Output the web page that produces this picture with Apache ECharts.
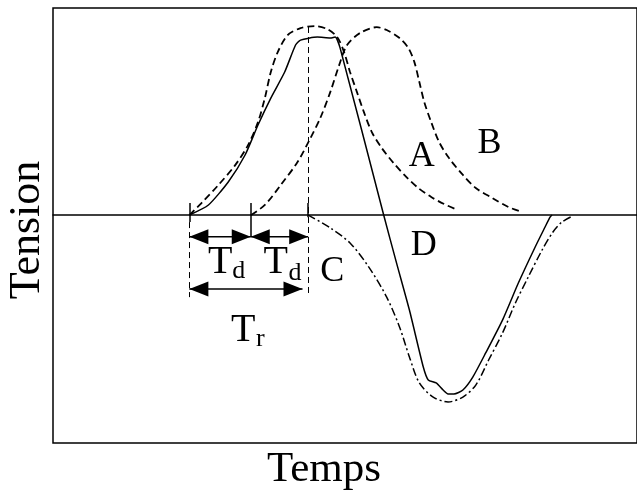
<!DOCTYPE html>
<html><head><meta charset="utf-8">
<script src="https://cdn.jsdelivr.net/npm/echarts@6/dist/echarts.min.js"></script>
<style>html,body{margin:0;padding:0;background:#fff}#c{width:637px;height:492px}</style>
</head><body><div id="c"></div>
<script>
// Curves [time, tension]
const curveA = [[23.58,0],[25.68,0.063],[28.60,0.158],[31.51,0.263],[33.73,0.368],[35.45,0.489],[36.64,0.616],[37.67,0.753],[38.87,0.858],[40.58,0.947],[42.81,0.984],[45.21,0.995],[47.43,0.979],[49.14,0.937],[50.34,0.858],[51.37,0.753],[52.57,0.647],[53.77,0.542],[55.14,0.437],[56.85,0.353],[58.90,0.274],[61.13,0.200],[63.18,0.142],[65.41,0.095],[67.64,0.058],[70.03,0.026]];
const curveB = [[34.25,0],[36.64,0.053],[39.38,0.158],[42.29,0.279],[44.52,0.405],[46.23,0.511],[47.95,0.647],[49.49,0.789],[50.86,0.895],[53.08,0.958],[55.99,0.989],[57.71,0.974],[59.93,0.932],[61.47,0.879],[62.50,0.805],[63.36,0.700],[64.21,0.595],[65.41,0.489],[66.78,0.384],[68.49,0.300],[70.89,0.211],[73.12,0.142],[76.03,0.089],[78.77,0.042],[81.16,0.016]];
const curveC = [[44.13,0],[47.95,-0.068],[51.37,-0.147],[54.62,-0.274],[57.71,-0.432],[59.93,-0.589],[61.64,-0.747],[63.36,-0.884],[65.75,-0.958],[68.32,-0.984],[70.89,-0.958],[73.12,-0.895],[75.34,-0.763],[77.74,-0.621],[79.97,-0.463],[82.19,-0.326],[84.59,-0.184],[86.47,-0.089],[88.01,-0.037],[89.90,-0.005]];
const curveD = [[23.58,0],[26.88,0.053],[30.31,0.174],[33.22,0.316],[35.45,0.474],[37.67,0.616],[40.07,0.753],[41.95,0.895],[42.81,0.921],[45.72,0.937],[47.95,0.932],[48.80,0.937],[49.66,0.879],[57.19,0],[59.42,-0.253],[61.64,-0.5],[64.04,-0.8],[64.90,-0.868],[66.27,-0.884],[67.47,-0.921],[68.32,-0.942],[69.35,-0.942],[70.89,-0.921],[72.60,-0.853],[74.83,-0.726],[77.74,-0.553],[80.48,-0.358],[83.39,-0.168],[85.10,-0.063],[85.96,-0.011],[86.30,0]];

// Annotation geometry (data units)
const tickMarks = [[[23.58,0.063],[23.58,-0.037]],[[34.20,0.063],[34.20,-0.116]],[[44.13,0.063],[44.13,-0.011]]];
const guideLines = [[[23.58,-0.037],[23.58,-0.432]],[[44.13,0.99],[44.13,-0.421]]];
// double arrows [x1, y1, x2, y2]
const arrowSpans = [[23.58,-0.114,34.20,-0.114],[34.20,-0.114,44.13,-0.114],[23.58,-0.389,43.15,-0.389]];

// Labels [time, tension, text]
const curveLabels = [[63.78,0.308,'A'],[75.51,0.374,'B'],[48.29,-0.295,'C'],[64.13,-0.161,'D']];
const mainLabels = [[28.94,-0.25,'T'],[38.53,-0.25,'T'],[32.88,-0.608,'T']];
const subLabels = [[32.11,-0.295,'d'],[41.87,-0.305,'d'],[35.87,-0.653,'r']];
const xTitle = 'Temps';
const yTitle = 'Tension';

const FONT = '"Liberation Serif", "Times New Roman", serif';
const HEAD_LEN = 19, HEAD_HALF = 7.5;
const chart = echarts.init(document.getElementById('c'), null, {renderer:'canvas'});

function labelSeries(data, size) {
  return {
    type:'scatter', data: data, symbolSize: 1, itemStyle:{color:'rgba(0,0,0,0)'}, silent:true, z: 10,
    label:{show:true, position:'inside', formatter: p => p.data[2], color:'#000', opacity:1,
      textBorderWidth:0, textShadowBlur:0, fontFamily: FONT, fontSize: size},
    labelLayout:{hideOverlap:false}
  };
}

function head(tip, ux, uy) {
  // triangle with tip at `tip`, body pointing back along -u
  const bx = tip[0] - ux * HEAD_LEN, by = tip[1] - uy * HEAD_LEN;
  return {type:'polygon', shape:{points:[tip, [bx - uy * HEAD_HALF, by + ux * HEAD_HALF], [bx + uy * HEAD_HALF, by - ux * HEAD_HALF]]},
    style:{fill:'#000', stroke:'none'}};
}

chart.setOption({
  backgroundColor:'#fff',
  animation:false,
  grid:{left:53, top:8, right:-6, bottom:49, show:true, borderColor:'#000', borderWidth:1.5, backgroundColor:'transparent'},
  xAxis:{type:'value', min:0, max:101, axisLine:{show:true, onZero:true, lineStyle:{color:'#000', width:1.5}},
    axisTick:{show:false}, axisLabel:{show:false}, splitLine:{show:false}},
  yAxis:{type:'value', min:-1.2, max:1.09, axisLine:{show:false}, axisTick:{show:false}, axisLabel:{show:false}, splitLine:{show:false}},
  graphic:[
    {type:'text', x:324, y:470, style:{text:xTitle, font:'43px ' + FONT, fill:'#000', align:'center', verticalAlign:'middle'}},
    {type:'text', x:27, y:230, rotation:Math.PI/2, style:{text:yTitle, font:'44px ' + FONT, fill:'#000', align:'center', verticalAlign:'middle'}}
  ],
  series:[
    {name:'A', type:'line', data:curveA, symbol:'none', smooth:0.3, lineStyle:{color:'#000', width:1.8, type:[7,4]}},
    {name:'B', type:'line', data:curveB, symbol:'none', smooth:0.3, lineStyle:{color:'#000', width:1.8, type:[7,4]}},
    {name:'C', type:'line', data:curveC, symbol:'none', smooth:0.3, lineStyle:{color:'#000', width:1.5, type:[8,3,2,3]}},
    {name:'D', type:'line', data:curveD, symbol:'none', smooth:0.2, lineStyle:{color:'#000', width:1.5}},
    {type:'lines', coordinateSystem:'cartesian2d', polyline:false, silent:true,
      data: tickMarks.map(c => ({coords:c})), symbol:['none','none'], lineStyle:{color:'#000', width:1.5, opacity:1, curveness:0}},
    {type:'lines', coordinateSystem:'cartesian2d', polyline:false, silent:true,
      data: guideLines.map(c => ({coords:c})), symbol:['none','none'], lineStyle:{color:'#000', width:1, type:[6,4], opacity:1, curveness:0}},
    {type:'custom', coordinateSystem:'cartesian2d', silent:true, data: arrowSpans,
      encode:{x:[0,2], y:[1,3]},
      renderItem: function(params, api) {
        const p1 = api.coord([api.value(0), api.value(1)]);
        const p2 = api.coord([api.value(2), api.value(3)]);
        const dx = p2[0] - p1[0], dy = p2[1] - p1[1];
        const len = Math.sqrt(dx*dx + dy*dy) || 1;
        const ux = dx / len, uy = dy / len;
        return {type:'group', children:[
          {type:'line', shape:{x1:p1[0], y1:p1[1], x2:p2[0], y2:p2[1]}, style:{stroke:'#000', lineWidth:1.5}},
          head(p2, ux, uy),
          head(p1, -ux, -uy)
        ]};
      }},
    labelSeries(curveLabels, 36),
    labelSeries(mainLabels, 40),
    labelSeries(subLabels, 26)
  ]
});
</script></body></html>
